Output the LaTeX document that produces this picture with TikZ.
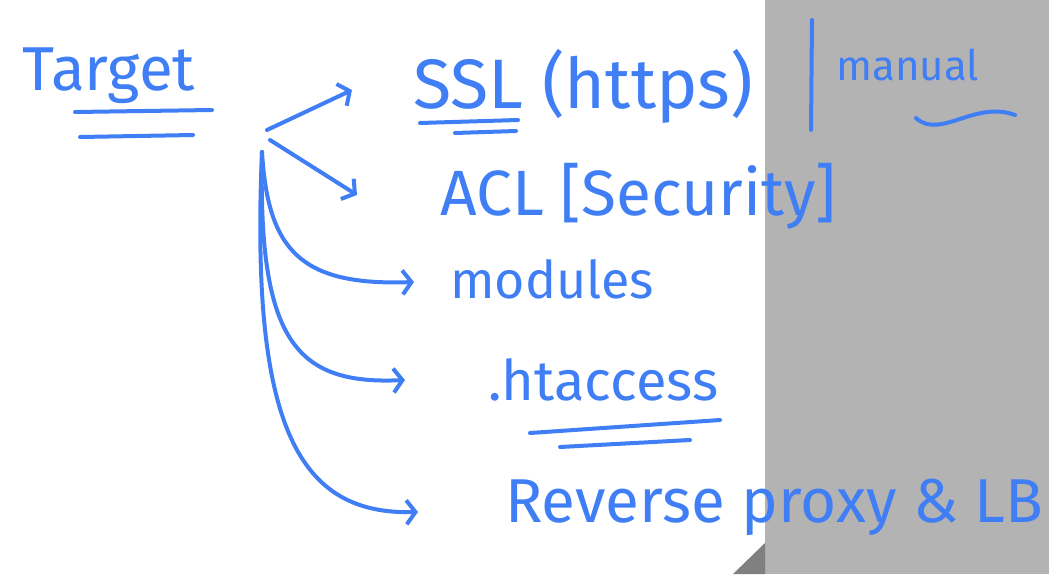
\documentclass[tikz,border=0pt]{standalone}
\usepackage{fontspec}
\setmainfont{Fira Sans}
\usetikzlibrary{positioning,arrows.meta}
\definecolor{pen}{RGB}{64,126,246}
\definecolor{sheetgrey}{RGB}{179,179,179}
\definecolor{curlgrey}{RGB}{128,128,128}

\begin{document}
\begin{tikzpicture}[x=1pt,y=-1pt,
  hand/.style={text=pen, font=\fontsize{#1}{#1}\selectfont, inner sep=0pt, anchor=base west},
  hand/.default=60,
  stroke/.style={draw=pen, line width=4pt, line cap=round},
  branch/.style={stroke, -{Straight Barb[length=9pt,width=24pt,line width=4pt]}}]

% Sheet
\useasboundingbox (0,0) rectangle (1049,574);
\fill[white] (0,0) rectangle (765,574);
\fill[sheetgrey] (765,0) rectangle (1049,574);
\fill[curlgrey] (765,543) -- (765,574) -- (733,574) -- cycle;

% Title
\node[hand=62] (target) at (22,90) {Target};
\draw[stroke] (75,112) -- (212,110);
\draw[stroke] (80,137) -- (193,135);

% Items
\node[hand=70] (ssl) at (413,108) {SSL (https)};
\node[hand=64] (acl) at (440,215) {ACL [Security]};
\node[hand=52] (modules) at (450,298) {modules};
\node[hand=56] (htaccess) at (488,400) {.htaccess};
\node[hand=62] (proxy) at (505,522) {Reverse proxy \& LB};
\node[hand=42] (manual) at (836,80) {manual};

% Underlines
\draw[stroke] (420,123) -- (518,120);
\draw[stroke] (455,133) -- (516,131);
\draw[stroke] (530,433) -- (720,420);
\draw[stroke] (560,447) -- (690,440);
\draw[stroke] (812,20) -- (811,130);
\draw[stroke] (916,118) .. controls (940,140) and (975,100) .. (1015,115);

% Branches
\coordinate (root) at (267,130);
\coordinate (fork) at (262,152);
\coordinate (sslTip) at (352,90);
\coordinate (aclTip) at (357,195);
\coordinate (modTip) at (414,282);
\coordinate (htTip) at (405,380);
\coordinate (proxyTip) at (418,512);

\draw[branch] (root) -- (sslTip);
\draw[branch] (270,140) -- (aclTip);
\draw[branch] (fork) .. controls (268,250) and (300,286) .. (modTip);
\draw[branch] (fork) .. controls (258,340) and (295,385) .. (htTip);
\draw[branch] (fork) .. controls (250,430) and (300,515) .. (proxyTip);
\end{tikzpicture}
\end{document}
